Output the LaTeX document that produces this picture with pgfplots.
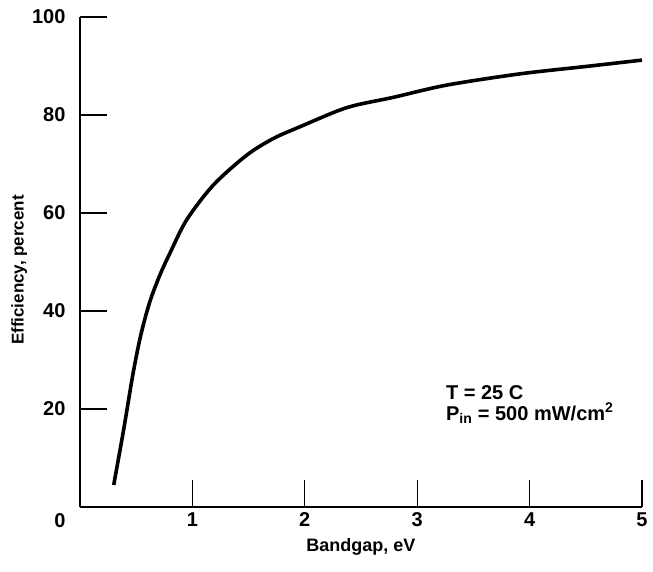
\documentclass[border=0pt]{standalone}
\usepackage{fontspec}
\setmainfont{Liberation Sans}
\usepackage{pgfplots}
\pgfplotsset{compat=1.18}

\begin{document}
\begin{tikzpicture}
  \begin{axis}[
      scale only axis,
      width=562pt, height=490pt,
      xmin=0, xmax=5, ymin=0, ymax=100,
      axis x line=bottom, axis y line=left,
      axis line style={-, line width=1.3pt},
      xtick={1,2,3,4,5}, ytick={20,40,60,80,100},
      tick align=inside,
      major tick length=27pt,
      tick style={line width=1.3pt, black},
      /pgf/number format/assume math mode=true,
      ticklabel style={font=\fontsize{20}{24}\selectfont\bfseries},
      xticklabel style={yshift=-2pt},
      yticklabel style={xshift=-11pt},
      xlabel={Bandgap, eV},
      ylabel={Efficiency, percent},
      xlabel style={font=\fontsize{18}{22}\selectfont\bfseries, yshift=-5pt},
      ylabel style={font=\fontsize{17}{20}\selectfont\bfseries, yshift=-2pt, xshift=-8pt},
      clip=false,
    ]
    \addplot[black, line width=3.6pt, smooth, tension=0.5] coordinates {
      (0.30,4.5) (0.39,16) (0.47,27) (0.54,35) (0.62,41.8) (0.71,47.3)
      (0.80,51.8) (0.949,58.6) (1.186,65.7) (1.483,71.8)
      (1.72,75.2) (1.957,77.6) (2.373,81.5) (2.787,83.6) (3.262,86.1)
      (3.915,88.4) (4.5,89.9) (5.0,91.2)
    };
    \node[font=\fontsize{20}{24}\selectfont\bfseries] at (axis cs:0,0) [xshift=-20pt, yshift=-14pt] {0};
    \node[font=\fontsize{20}{24}\selectfont\bfseries, anchor=south west, align=left, inner sep=0pt]
      at (axis cs:3.255,17.0) {T = 25 C\\[-3pt] P\textsubscript{in} = 500 mW/cm\textsuperscript{2}};
  \end{axis}
  \pgfresetboundingbox
  \path[use as bounding box] (-80pt,-64pt) rectangle (573pt,507pt);
\end{tikzpicture}
\end{document}
